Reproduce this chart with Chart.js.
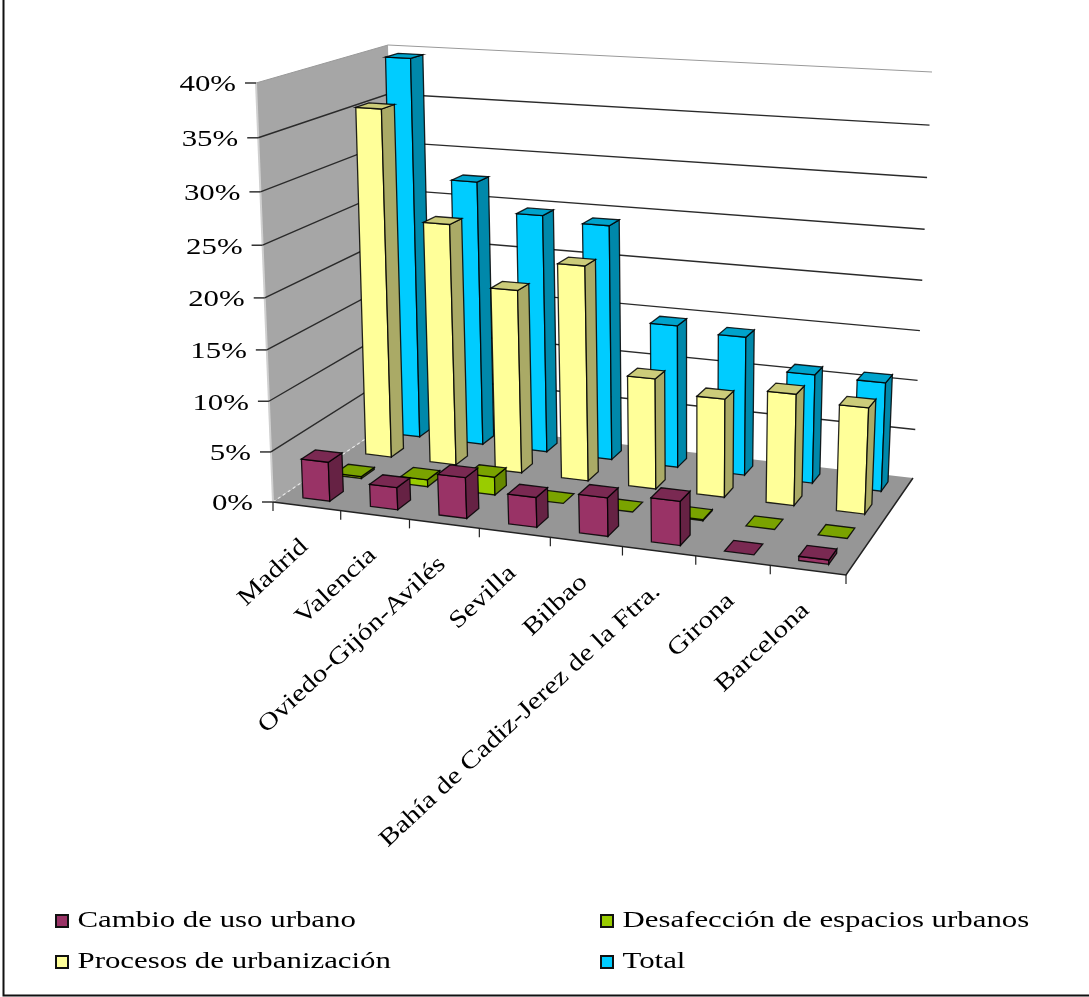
<!DOCTYPE html>
<html lang="es">
<head>
<meta charset="utf-8">
<title>Cambio de uso urbano</title>
<script src="https://cdn.jsdelivr.net/npm/chart.js@4"></script>
<style>
  html, body { margin: 0; padding: 0; background: #fff; }
  canvas { display: block; }
</style>
</head>
<body>
<canvas id="chart" width="1089" height="997"></canvas>
<script>
/* ── Data ───────────────────────────────────────── */
const CATEGORIES = [
  "Madrid",
  "Valencia",
  "Oviedo-Gijón-Avilés",
  "Sevilla",
  "Bilbao",
  "Bahía de Cadiz-Jerez de la Ftra.",
  "Girona",
  "Barcelona",
];
const CAMBIO = [3.9, 2.2, 4.0, 2.9, 3.7, 4.2, 0, 0.4];
const DESAFECCION = [0.2, 0.7, 1.8, 0, 0, 0.1, 0, 0];
const PROCESOS = [35.5, 24.6, 18.6, 21.6, 11.1, 9.8, 11, 10.4];
const TOTAL = [39.5, 27.5, 24.6, 24.1, 14.6, 14.1, 11, 10.9];
const SERIES_NAMES = [
  "Cambio de uso urbano",
  "Desafección de espacios urbanos",
  "Procesos de urbanización",
  "Total",
];
const SERIES_COLORS = ["#993366", "#99CC00", "#FFFF99", "#00CCFF"];
const Y_MAX = 40;
const Y_STEP = 5;

/* ── 3D box as seen on screen ───────────────────── */
const FLOOR = [[273, 502], [846, 575], [913, 478], [396, 418]];
const ROOF = [[256, 83], [861, 119], [932, 72], [388, 45]];
const BAR_WIDTH = 0.4;
const BAR_DEPTH = 0.42;
const FONT = "24px 'Liberation Serif', serif";
const STRETCH = 1.285;
const LABEL_STRETCH = 1.22;

// unit square -> quad, corners ordered (0,0) (1,0) (1,1) (0,1)
function squareToQuad([[x0, y0], [x1, y1], [x2, y2], [x3, y3]]) {
  const dx1 = x1 - x2, dx2 = x3 - x2, sx = x0 - x1 + x2 - x3;
  const dy1 = y1 - y2, dy2 = y3 - y2, sy = y0 - y1 + y2 - y3;
  const den = dx1 * dy2 - dx2 * dy1;
  const g = (sx * dy2 - dx2 * sy) / den;
  const h = (dx1 * sy - sx * dy1) / den;
  const a = x1 - x0 + g * x1, b = x3 - x0 + h * x3;
  const d = y1 - y0 + g * y1, e = y3 - y0 + h * y3;
  return (u, v) => {
    const w = g * u + h * v + 1;
    return [(a * u + b * v + x0) / w, (d * u + e * v + y0) / w];
  };
}

const floorAt = squareToQuad(FLOOR);
const roofAt = squareToQuad(ROOF);

function project(u, v, t) {
  const [fx, fy] = floorAt(u, v);
  const [rx, ry] = roofAt(u, v);
  return [fx + (rx - fx) * t, fy + (ry - fy) * t];
}

// value axis with the slight foreshortening of the 3D wall
class PerspectiveScale extends Chart.LinearScale {
  static id = "perspective";
  static defaults = Chart.LinearScale.defaults;
  getPixelForValue(value) {
    const h = (value - this.min) / (this.max - this.min);
    const t = h / (h + 1.053 * (1 - h));
    return this.bottom - t * this.height;
  }
}
Chart.register(PerspectiveScale);

function shade(hex, k) {
  const n = parseInt(hex.slice(1), 16);
  const c = (s) => Math.round(((n >> s) & 255) * k);
  return `rgb(${c(16)}, ${c(8)}, ${c(0)})`;
}

function poly(ctx, pts, fill, stroke, lw) {
  ctx.beginPath();
  pts.forEach(([x, y], i) => (i ? ctx.lineTo(x, y) : ctx.moveTo(x, y)));
  if (fill) {
    ctx.closePath();
    ctx.fillStyle = fill;
    ctx.fill();
  }
  if (stroke) {
    ctx.strokeStyle = stroke;
    ctx.lineWidth = lw || 1;
    ctx.stroke();
  }
}

function text(ctx, str, x, y, angle, align, stretch) {
  ctx.save();
  ctx.translate(x, y);
  ctx.rotate(angle);
  ctx.scale(stretch, 1);
  ctx.font = FONT;
  ctx.fillStyle = "#000";
  ctx.textAlign = align;
  ctx.textBaseline = "middle";
  ctx.fillText(str, 0, 0);
  ctx.restore();
}

function wallFraction(yScale, value) {
  return (yScale.bottom - yScale.getPixelForValue(value)) / yScale.height;
}

function depthU(xScale, i) {
  return (xScale.getPixelForValue(i) - xScale.left) / xScale.width;
}

const box3d = {
  id: "box3d",
  beforeDatasetsDraw(chart) {
    const { ctx } = chart;
    const y = chart.scales.y;
    const x = chart.scales.x;

    // outer frame: only left and bottom survive in the scan
    poly(ctx, [[3.5, 0], [3.5, 995.5], [1089, 995.5]], null, "#111", 2);

    // walls and floor
    poly(ctx, [project(0, 0, 0), project(0, 1, 0), project(0, 1, 1), project(0, 0, 1)], "#A6A6A6");
    poly(ctx, [project(0, 0, 0), project(1, 0, 0), project(1, 1, 0), project(0, 1, 0)], "#969696");
    poly(ctx, [project(0, 0, 0), project(0, 0, 1)], null, "#D0D0D0", 2);

    // gridlines and value labels
    y.ticks.forEach((tick) => {
      const t = wallFraction(y, tick.value);
      const [ex, ey] = project(0, 0, t);
      poly(ctx, [[ex - 11, ey], [ex, ey]], null, "#333", 1.5);
      text(ctx, tick.label, ex - 20, ey + 2, 0, "right", STRETCH);
      if (tick.value === 0) return;
      const top = tick.value === Y_MAX;
      poly(ctx, [project(0, 0, t), project(0, 1, t), project(1, 1, t)], null, top ? "#999" : "#2A2A2A", top ? 1 : 1.4);
    });

    // floor edges and category ticks
    ctx.save();
    ctx.setLineDash([3, 3]);
    poly(ctx, [project(0, 0, 0), project(0, 1, 0)], null, "#E8E8E8", 1.2);
    ctx.restore();
    poly(ctx, [project(0, 0, 0), project(1, 0, 0), project(1, 1, 0)], null, "#222", 1.5);
    CATEGORIES.concat("").forEach((_, i) => {
      const [tx, ty] = project(i / CATEGORIES.length, 0, 0);
      poly(ctx, [[tx, ty], [tx, ty + 9]], null, "#222", 1.2);
    });

    // category labels, following the slanted front edge
    CATEGORIES.forEach((name, i) => {
      const [lx, ly] = project(depthU(x, i), 0, 0);
      text(ctx, name, lx - 2, ly + 37, (-43 * Math.PI) / 180, "right", LABEL_STRETCH);
    });

    // legend
    const legendSlots = [[56, 921], [601, 921], [56, 962], [601, 962]];
    SERIES_NAMES.forEach((name, i) => {
      const [lx, ly] = legendSlots[i];
      ctx.fillStyle = SERIES_COLORS[i];
      ctx.strokeStyle = "#111";
      ctx.lineWidth = 2;
      ctx.fillRect(lx, ly - 6, 12, 12);
      ctx.strokeRect(lx, ly - 6, 12, 12);
      text(ctx, name, lx + 21.5, ly, 0, "left", STRETCH);
    });
  },

  // each series sits on its own row of the floor, front row first
  beforeDatasetDraw(chart, { index }) {
    const { ctx } = chart;
    const x = chart.scales.x;
    const y = chart.scales.y;
    const rows = chart.data.datasets.length;
    const color = SERIES_COLORS[index];
    const halfU = (BAR_WIDTH / CATEGORIES.length) / 2;
    const halfV = (BAR_DEPTH / rows) / 2;
    const v = (index + 0.5) / rows;
    const edge = "rgba(0, 0, 0, 0.85)";

    chart.data.datasets[index].data.forEach((value, i) => {
      const u = depthU(x, i);
      const t = wallFraction(y, value);
      const u0 = u - halfU, u1 = u + halfU, v0 = v - halfV, v1 = v + halfV;
      if (t > 0) {
        poly(ctx, [project(u0, v0, 0), project(u1, v0, 0), project(u1, v0, t), project(u0, v0, t)], color, edge, 1.3);
        poly(ctx, [project(u1, v0, 0), project(u1, v1, 0), project(u1, v1, t), project(u1, v0, t)], shade(color, 0.667), edge, 1.3);
      }
      poly(ctx, [project(u0, v0, t), project(u1, v0, t), project(u1, v1, t), project(u0, v1, t)], shade(color, 0.8), edge, 1.3);
    });
    return false;
  },
};

new Chart(document.getElementById("chart"), {
  type: "bar",
  data: {
    labels: CATEGORIES,
    datasets: [CAMBIO, DESAFECCION, PROCESOS, TOTAL].map((data, i) => ({
      label: SERIES_NAMES[i],
      data,
      backgroundColor: SERIES_COLORS[i],
    })),
  },
  options: {
    responsive: false,
    animation: false,
    layout: {
      padding: { left: FLOOR[0][0], right: 1089 - FLOOR[1][0], top: ROOF[0][1], bottom: 997 - FLOOR[0][1] },
    },
    plugins: { legend: { display: false }, tooltip: { enabled: false } },
    scales: {
      x: { display: false },
      y: {
        type: "perspective",
        display: false,
        min: 0,
        max: Y_MAX,
        ticks: { stepSize: Y_STEP, callback: (v) => v + "%" },
      },
    },
  },
  plugins: [box3d],
});
</script>
</body>
</html>
